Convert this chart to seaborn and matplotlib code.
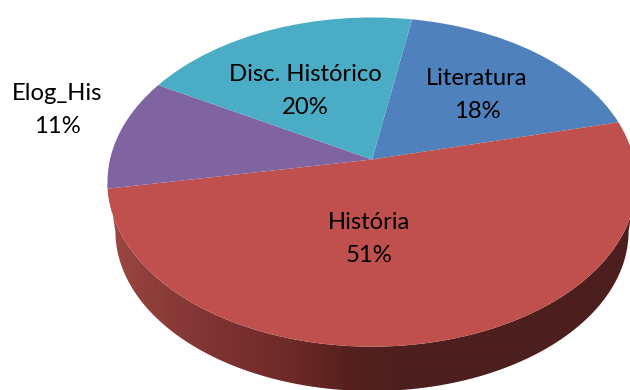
import numpy as np
import matplotlib
matplotlib.use("Agg")
import matplotlib.pyplot as plt
import seaborn as sns
from matplotlib.transforms import Transform
from matplotlib.patches import Polygon
from matplotlib.colors import LinearSegmentedColormap

# Data
categories = ["Literatura", "História", "Elog_His", "Disc. Histórico"]
shares = [18.4, 51.0, 11.0, 19.6]

# Styles and layout
slice_colors = ["#4F81BD", "#C0504D", "#8064A2", "#4BACC6"]
side_stops = [(0.0, "#A04A46"), (0.074, "#91403C"), (0.228, "#7D3230"),
              (0.35, "#6E2A28"), (0.463, "#55201E"), (0.555, "#4C1F1E"), (1.0, "#4C1F1E")]
label_xy = [(477, 95), (369, 239), (57, 110), (305, 91)]
HUB_X, HUB_Y = 372, 159.5
RX, RY, PERSP = 262, 161.5, 0.137
DEPTH, SHRINK = 50, 0.97
START_ANGLE = 80

sns.set_style("white")
plt.rcParams["font.family"] = ["Lato", "DejaVu Sans"]


class Tilt(Transform):
    """Perspective view of the unit-circle pie."""
    input_dims = output_dims = 2
    is_separable = False
    has_inverse = False

    def transform_non_affine(self, values):
        values = np.asarray(values, dtype=float)
        w = 1 + PERSP * values[:, 1]
        return np.column_stack([HUB_X + RX * values[:, 0] / w,
                                HUB_Y - RY * values[:, 1] / w])


fig, ax = plt.subplots(figsize=(6.3, 3.9), dpi=100)
ax.set_position([0, 0, 1, 1])

wedges, _ = ax.pie(shares, colors=sns.color_palette(slice_colors), startangle=START_ANGLE,
                   counterclock=False, radius=1, wedgeprops=dict(linewidth=0, zorder=2))
tilt = Tilt()
for wedge in wedges:
    wedge.set_transform(tilt + ax.transData)

ax.set_aspect("auto")
ax.set_xlim(0, 630)
ax.set_ylim(390, 0)
ax.axis("off")

# Side wall of the pie: a shaded band below the front rim
theta = np.linspace(0, 2 * np.pi, 721)
rim = tilt.transform_non_affine(np.column_stack([np.cos(theta), np.sin(theta)]))
i_left, i_right = rim[:, 0].argmin(), rim[:, 0].argmax()
order = np.roll(np.arange(720), -i_left)
order = order[: ((i_right - i_left) % 720) + 1]
front = rim[order]
lower = np.column_stack([HUB_X + (front[:, 0] - HUB_X) * SHRINK,
                         HUB_Y + (front[:, 1] - HUB_Y) * SHRINK + DEPTH])
side = Polygon(np.vstack([front, lower[::-1]]), closed=True, transform=ax.transData,
               facecolor="none", edgecolor="none")
ax.add_patch(side)
shade = LinearSegmentedColormap.from_list("side", side_stops)
image = ax.imshow(np.linspace(0, 1, 630)[None, :], cmap=shade, aspect="auto",
                  extent=(100, 640, 400, 150), zorder=1)
image.set_clip_path(side)
ax.set_xlim(0, 630)
ax.set_ylim(390, 0)

for name, share, (x, y) in zip(categories, shares, label_xy):
    ax.text(x, y, f"{name}\n{round(share)}%", ha="center", va="center", fontsize=17.2,
            color="black", linespacing=1.65, zorder=3)

fig.savefig("out.png", dpi=100, facecolor="white")
